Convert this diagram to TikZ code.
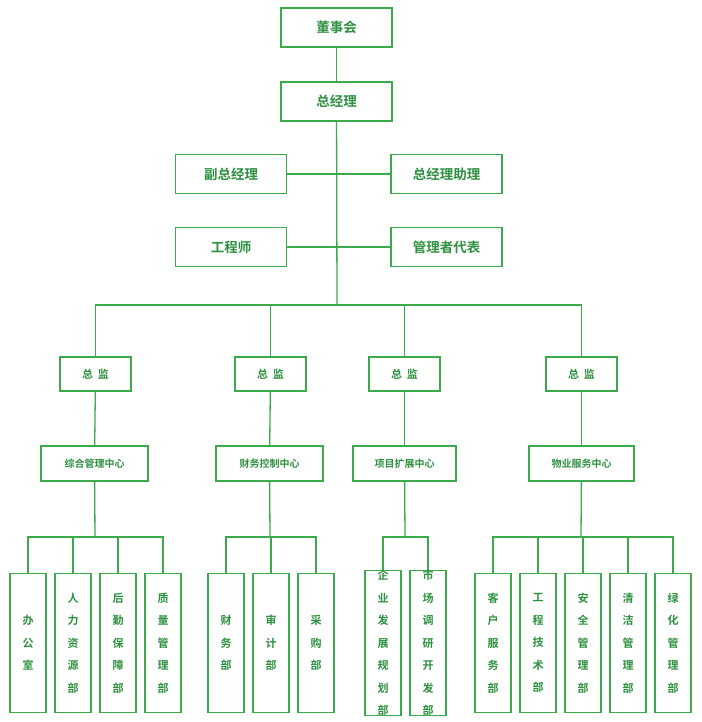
\documentclass[tikz,border=0pt]{standalone}
\usepackage{fontspec}
\newfontfamily\cjk{Noto Sans CJK SC}[BoldFont={* Bold}]
\definecolor{boxgreen}{HTML}{3AAA4A}
\definecolor{textgreen}{HTML}{2E9140}
\tikzset{
  box/.style={draw=boxgreen, line width=1.3pt, fill=white, text=textgreen, font=\cjk\bfseries, inner sep=0pt},
  big/.style={box, minimum width=111pt, minimum height=39pt, font=\cjk\bfseries\fontsize{13.5}{14}\selectfont},
  mid/.style={box, minimum width=71pt, minimum height=34pt, font=\cjk\bfseries\fontsize{11}{12}\selectfont},
  ctr/.style={box, minimum height=35pt, font=\cjk\bfseries\fontsize{10}{11}\selectfont},
  leaf/.style={box, minimum width=36pt, minimum height=139pt, align=center, font=\cjk\bfseries\fontsize{11}{22.5}\selectfont},
  link/.style={draw=boxgreen, line width=1.3pt}
}
\begin{document}
\begin{tikzpicture}[x=1pt, y=-1pt]
\useasboundingbox (0,0) rectangle (701,722);
% top of the tree
\node (dsh)[big] at (336.5,27.5) {董事会};
\node (zjl)[big] at (336.5,101.5) {总经理};
\node (fzjl)[big] at (231,174) {副总经理};
\node (zjlzl)[big] at (446.5,174) {总经理助理};
\node (gcs)[big] at (231,247) {工程师};
\node (glzdb)[big] at (446.5,247) {管理者代表};
\coordinate (trunk) at (337,305);
\draw[link] (dsh) -- (zjl);
\draw[link] (zjl) -- (trunk);
\draw[link] (fzjl.east) -- (zjlzl.west);
\draw[link] (gcs.east) -- (glzdb.west);

% directors and centres
\node (zj1)[mid] at (95.5,374) {总\ \ 监};
\node (zj2)[mid] at (270.5,374) {总\ \ 监};
\node (zj3)[mid] at (404.5,374) {总\ \ 监};
\node (zj4)[mid] at (581.5,374) {总\ \ 监};
\node (zx1)[ctr, minimum width=107pt] at (94.5,463.5) {综合管理中心};
\node (zx2)[ctr, minimum width=107pt] at (269.5,463.5) {财务控制中心};
\node (zx3)[ctr, minimum width=103pt] at (404.5,463.5) {项目扩展中心};
\node (zx4)[ctr, minimum width=105pt] at (581.5,463.5) {物业服务中心};
\draw[link] (zj1.north) |- (trunk) -| (zj4.north);
\draw[link] (zj2.north) -- (zj2.north |- trunk);
\draw[link] (zj3.north) -- (zj3.north |- trunk);
\foreach \i in {1,...,4}
  \draw[link] (zj\i) -- (zx\i);

% departments
\node (b1)[leaf] at (28,643) {办\\公\\室};
\node (b2)[leaf] at (73,643) {人\\力\\资\\源\\部};
\node (b3)[leaf] at (118,643) {后\\勤\\保\\障\\部};
\node (b4)[leaf] at (163,643) {质\\量\\管\\理\\部};
\node (c1)[leaf] at (226,643) {财\\务\\部};
\node (c2)[leaf] at (271,643) {审\\计\\部};
\node (c3)[leaf] at (316,643) {采\\购\\部};
\node (d1)[leaf] at (383,643) {企\\业\\发\\展\\规\\划\\部};
\node (d2)[leaf] at (428,643) {市\\场\\调\\研\\开\\发\\部};
\node (e1)[leaf] at (493,643) {客\\户\\服\\务\\部};
\node (e2)[leaf] at (538,643) {工\\程\\技\\术\\部};
\node (e3)[leaf] at (583,643) {安\\全\\管\\理\\部};
\node (e4)[leaf] at (628,643) {清\\洁\\管\\理\\部};
\node (e5)[leaf] at (673,643) {绿\\化\\管\\理\\部};
\coordinate (bus1) at (95,537);
\coordinate (bus2) at (270,537);
\coordinate (bus3) at (405,537);
\coordinate (bus4) at (581,537);
\foreach \i in {1,...,4}
  \draw[link] (zx\i) -- (bus\i);
\draw[link] (b1.north) |- (bus1) -| (b4.north);
\draw[link] (c1.north) |- (bus2) -| (c3.north);
\draw[link] (d1.north) |- (bus3) -| (d2.north);
\draw[link] (e1.north) |- (bus4) -| (e5.north);
\foreach \n in {b2,b3,c2,e2,e3,e4}
  \draw[link] (\n.north) -- (\n.north |- bus1);
\end{tikzpicture}
\end{document}
